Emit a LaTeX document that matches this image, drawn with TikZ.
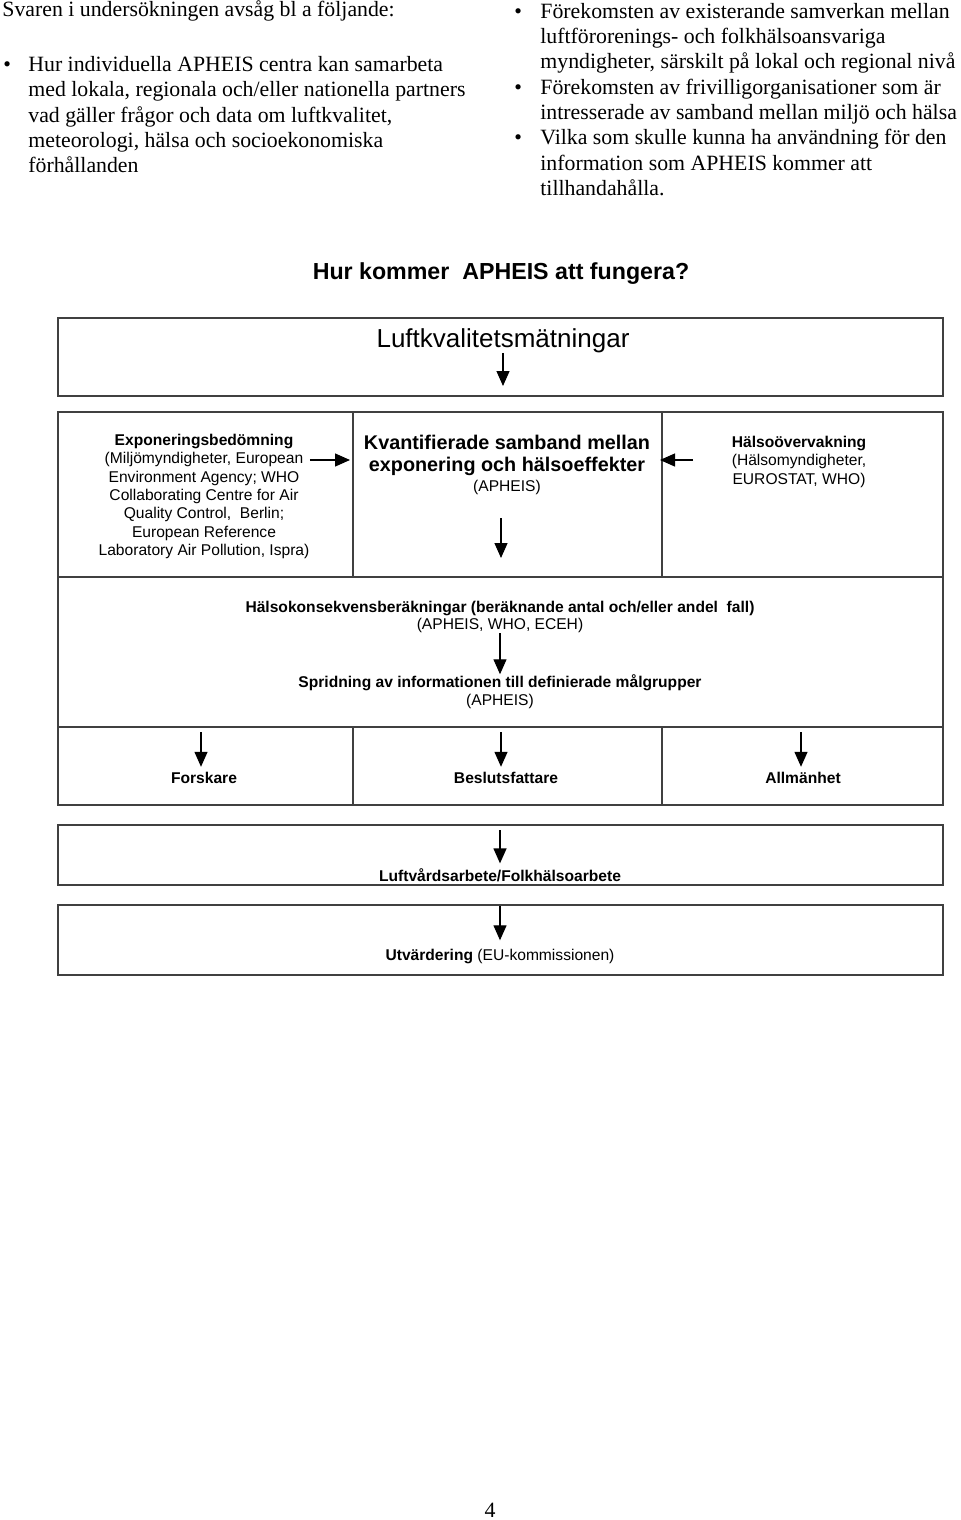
\documentclass[tikz,border=0pt]{standalone}
\usepackage{fontspec}
\setmainfont{Liberation Serif}
\setsansfont{Liberation Sans}
\usetikzlibrary{arrows.meta}

\begin{document}
\begin{tikzpicture}[x=0.5pt, y=-0.5pt,
      frame/.style={draw=black!75, line width=0.9pt},
      body/.style={font=\rmfamily\fontsize{10.9}{12.65}\selectfont, align=left, inner sep=0pt, anchor=base west},
      dot/.style={font=\rmfamily\fontsize{10.9}{12.65}\selectfont, inner sep=0pt, anchor=base west},
      lbl/.style={font=\sffamily\fontsize{7.8}{9.15}\selectfont, align=center, inner sep=0pt, anchor=base},
      lblb/.style={lbl, font=\sffamily\bfseries\fontsize{7.8}{9.15}\selectfont},
      arrow/.style={-{Triangle[width=6.5pt, length=7.5pt]}, line width=0.65pt}
    ]

    \useasboundingbox (0,0) rectangle (960,1520);

    % Text above the diagram (multi-line nodes sit on their last line)
    \node[body] (intro) at (2,17) {Svaren i undersökningen avsåg bl a följande:};
    \node[dot] (b1) at (3,71.5) {\textbullet};
    \node[body] (samarb) at (28,172.7) {Hur individuella APHEIS centra kan samarbeta\\med lokala, regionala och/eller nationella partners\\vad gäller frågor och data om luftkvalitet,\\meteorologi, hälsa och socioekonomiska\\förhållanden};
    \node[dot] (b2) at (514,18.3) {\textbullet};
    \node[body] (samverk) at (540,68.9) {Förekomsten av existerande samverkan mellan\\luftförorenings- och folkhälsoansvariga\\myndigheter, särskilt på lokal och regional nivå};
    \node[dot] (b3) at (514,94.2) {\textbullet};
    \node[body] (frivil) at (540,119.5) {Förekomsten av frivilligorganisationer som är\\intresserade av samband mellan miljö och hälsa};
    \node[dot] (b4) at (514,144.8) {\textbullet};
    \node[body] (anvand) at (540,195.4) {Vilka som skulle kunna ha användning för den\\information som APHEIS kommer att\\tillhandahålla.};

    % Title
    \node[font=\sffamily\bfseries\fontsize{11.6}{13}\selectfont, inner sep=0pt, anchor=base] (rubrik) at (501,279) {Hur kommer\ \ APHEIS att fungera?};

    % Air quality measurements
    \draw[frame] (58,318) rectangle (943,396);
    \node[font=\sffamily\fontsize{13}{15}\selectfont, inner sep=0pt, anchor=base] (lk) at (503,347) {Luftkvalitetsmätningar};
    \coordinate (lkend) at (503,386);
    \draw[arrow] (lk.south) -- (lkend);

    % Exposure, relations, health monitoring
    \draw[frame] (58,412) rectangle (943,577);
    \draw[frame] (353,412) -- (353,577);
    \draw[frame] (662,412) -- (662,577);
    \node[lbl] (expo) at (204,555.4) {\textbf{Exponeringsbedömning}\\(Miljömyndigheter, European\\Environment Agency; WHO\\Collaborating Centre for Air\\Quality Control,\ \ Berlin;\\European Reference\\Laboratory Air Pollution, Ispra)};
    \node[font=\sffamily\bfseries\fontsize{9.9}{11.3}\selectfont, align=center, inner sep=0pt, anchor=base] (kvant) at (507,471.6) {Kvantifierade samband mellan\\exponering och hälsoeffekter};
    \node[lbl] (kvantsrc) at (507,491.5) {(APHEIS)};
    \node[lbl] (halso) at (799,484) {\textbf{Hälsoövervakning}\\(Hälsomyndigheter,\\EUROSTAT, WHO)};
    \coordinate (d1) at (350,460);
    \coordinate (h1) at (693,460);
    \coordinate (d2) at (660,460);
    \coordinate (k1) at (501,518);
    \coordinate (k2) at (501,558);
    \draw[arrow] (expo.east |- d1) -- (d1);
    \draw[arrow] (h1) -- (d2);
    \draw[arrow] (k1) -- (k2);

    % Health impact assessment and dissemination
    \draw[frame] (58,577) rectangle (943,727);
    \node[lblb] (hsk) at (500,612) {Hälsokonsekvensberäkningar (beräknande antal och/eller andel\ \ fall)};
    \node[lbl] (hsksrc) at (500,629.5) {(APHEIS, WHO, ECEH)};
    \node[lblb] (spr) at (500,687.5) {Spridning av informationen till definierade målgrupper};
    \node[lbl] (sprsrc) at (500,705.5) {(APHEIS)};
    \draw[arrow] (hsksrc) -- (spr);

    % Target groups
    \draw[frame] (58,727) rectangle (943,805);
    \draw[frame] (353,727) -- (353,805);
    \draw[frame] (662,727) -- (662,805);
    \node[lblb] (forsk) at (204,783.5) {Forskare};
    \node[lblb] (beslut) at (506,783.5) {Beslutsfattare};
    \node[lblb] (allm) at (803,783.5) {Allmänhet};
    \coordinate (fa) at (201,732);
    \coordinate (ba) at (501,732);
    \coordinate (aa) at (801,732);
    \draw[arrow, shorten >=2.5pt] (fa) -- (fa |- forsk.north);
    \draw[arrow, shorten >=2.5pt] (ba) -- (ba |- beslut.north);
    \draw[arrow, shorten >=2.5pt] (aa) -- (aa |- allm.north);

    % Air quality and public health work
    \draw[frame] (58,825) rectangle (943,885);
    \node[lblb] (luftv) at (500,881.6) {Luftvårdsarbete/Folkhälsoarbete};
    \coordinate (la) at (500,830);
    \draw[arrow, shorten >=2.5pt] (la) -- (luftv.north);

    % Evaluation
    \draw[frame] (58,905) rectangle (943,975);
    \node[lbl] (utv) at (500,960) {\textbf{Utvärdering} (EU-kommissionen)};
    \coordinate (ua) at (500,906);
    \draw[arrow, shorten >=4pt] (ua) -- (utv.north);

    % Page number
    \node[font=\rmfamily\fontsize{10.9}{12}\selectfont, inner sep=0pt, anchor=base] (sidnr) at (490,1517) {4};

  \end{tikzpicture}
\end{document}
